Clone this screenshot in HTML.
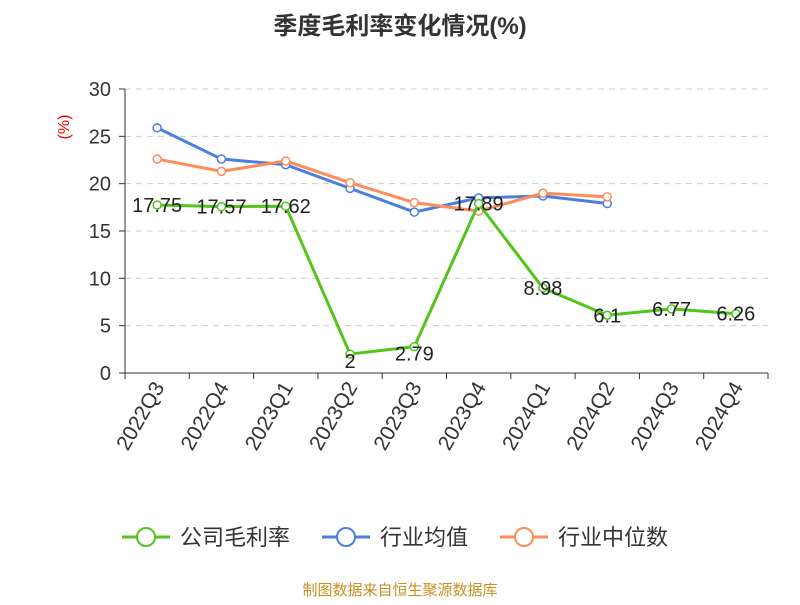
<!DOCTYPE html>
<html><head><meta charset="utf-8"><style>
body{margin:0;background:#fff;font-family:"Liberation Sans","Noto Sans CJK SC",sans-serif;}
svg text{font-family:"Liberation Sans","Noto Sans CJK SC",sans-serif;}
</style></head><body>
<svg id="chart" width="800" height="600" xmlns="http://www.w3.org/2000/svg">
<text x="400" y="34" text-anchor="middle" font-size="24" font-weight="bold" fill="#333">季度毛利率变化情况(%)</text>
<text x="0" y="0" transform="translate(69,127) rotate(-90)" text-anchor="middle" font-size="16" fill="#e00">(%)</text>
<g id="grid"></g>
<g id="series"></g>
<g font-size="22" fill="#333">
<g><line x1="122" y1="537" x2="170" y2="537" stroke="#52c41a" stroke-width="3"/><circle cx="146" cy="537" r="9" fill="#fff" stroke="#52c41a" stroke-width="2"/><text x="180" y="545">公司毛利率</text></g>
<g><line x1="322" y1="537" x2="370" y2="537" stroke="#4a7fe0" stroke-width="3"/><circle cx="346" cy="537" r="9" fill="#fff" stroke="#4a7fe0" stroke-width="2"/><text x="380" y="545">行业均值</text></g>
<g><line x1="500" y1="537" x2="548" y2="537" stroke="#ff8c5a" stroke-width="3"/><circle cx="524" cy="537" r="9" fill="#fff" stroke="#ff8c5a" stroke-width="2"/><text x="558" y="545">行业中位数</text></g>
</g>
<text x="400" y="595" text-anchor="middle" font-size="15" fill="#c89020">制图数据来自恒生聚源数据库</text>
</svg>
<script>
const categories=["2022Q3","2022Q4","2023Q1","2023Q2","2023Q3","2023Q4","2024Q1","2024Q2","2024Q3","2024Q4"];
const company=[17.75,17.57,17.62,2,2.79,17.89,8.98,6.1,6.77,6.26];
const industryAvg=[25.9,22.6,22.0,19.5,17.0,18.5,18.7,17.9,null,null];
const industryMedian=[22.6,21.3,22.4,20.1,18.0,17.1,19.0,18.6,null,null];
const yTicks=[0,5,10,15,20,25,30];
const NS="http://www.w3.org/2000/svg";
const L=125,R=768,T=89,B=373,yMax=30;
const bw=(R-L)/categories.length;
const x=i=>L+bw*(i+0.5);
const y=v=>B-(v/yMax)*(B-T);
const grid=document.getElementById('grid'),ser=document.getElementById('series');
function mk(tag,at,parent){const e=document.createElementNS(NS,tag);for(const k in at)e.setAttribute(k,at[k]);parent.appendChild(e);return e;}
yTicks.forEach(t=>{
 if(t>0){const g=mk('line',{x1:L,x2:R,y1:y(t),y2:y(t),stroke:'#ccc','stroke-dasharray':'6,5'},grid);
 
 }
 const tk=mk('line',{x1:L-6,x2:L,y1:y(t),y2:y(t),stroke:'#333'},grid);
 
 
 const tx=mk('text',{x:L-14,y:y(t)+7,'text-anchor':'end','font-size':20,fill:'#333'},grid);tx.textContent=t;
 
 
});
const ya=mk('line',{x1:L,x2:L,y1:T,y2:B,stroke:'#333'},grid);


const xa=mk('line',{x1:L,x2:R,y1:B,y2:B,stroke:'#333'},grid);


for(let i=0;i<=categories.length;i++){const t=mk('line',{x1:L+bw*i,x2:L+bw*i,y1:B,y2:B+6,stroke:'#333'},grid);

}
categories.forEach((c,i)=>{const t=mk('text',{transform:`translate(${x(i)+8},${B+14}) rotate(-60)`,'text-anchor':'end','font-size':21,fill:'#333'},grid);t.textContent=c;

});
function line(data,color,name,labels){
 const pts=[];data.forEach((v,i)=>{if(v!=null)pts.push(x(i)+','+y(v));});
 const p=mk('polyline',{points:pts.join(' '),fill:'none',stroke:color,'stroke-width':3},ser);
 
 
 data.forEach((v,i)=>{if(v==null)return;
  const c=mk('circle',{cx:x(i),cy:y(v),r:4,fill:'#fff',stroke:color,'stroke-width':1.5},ser);
  
  
  if(labels){const t=mk('text',{x:x(i),y:y(v)+(v<5?14:7),'text-anchor':'middle','font-size':20,fill:'#222'},ser);t.textContent=v;
  
  }
 });
}
line(industryAvg,'#4a7fe0','industry-avg',false);
line(industryMedian,'#ff8c5a','industry-median',false);
line(company,'#52c41a','company',true);
</script>
</body></html>
